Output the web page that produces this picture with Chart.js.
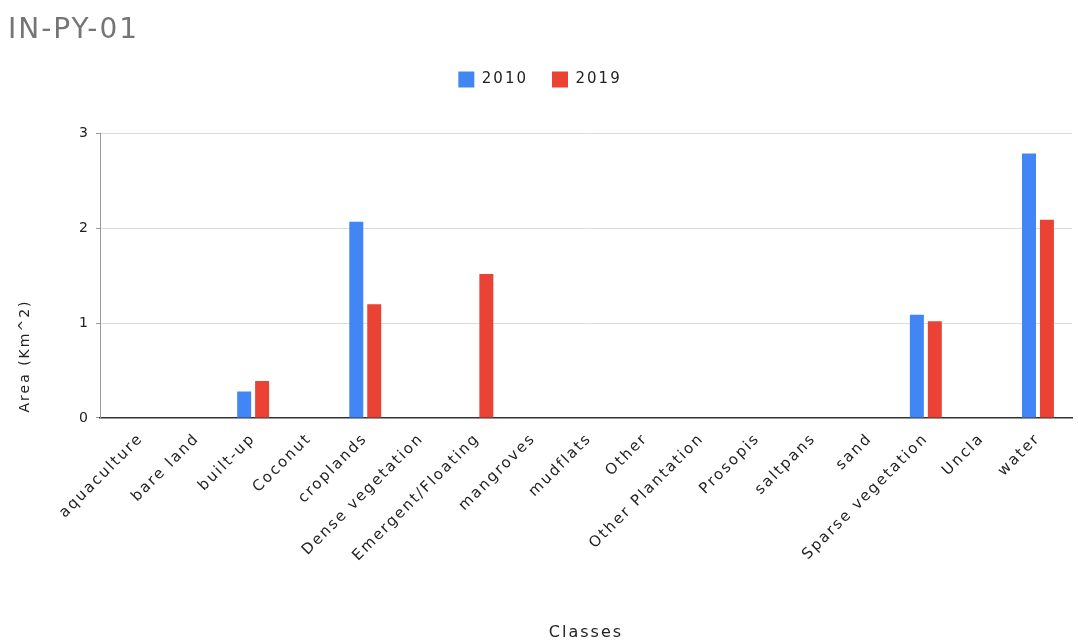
<!DOCTYPE html>
<html>
<head>
<meta charset="utf-8">
<script src="https://cdn.jsdelivr.net/npm/chart.js@4.4.1/dist/chart.umd.min.js"></script>
<style>
  html, body { margin: 0; padding: 0; background: #fff; }
  #wrap { width: 1078px; height: 642px; position: relative; }
</style>
</head>
<body>
<div id="wrap"><canvas id="myChart"></canvas></div>
<script>
// classes along the x axis
var classes = ["aquaculture", "bare land", "built-up", "Coconut", "croplands", "Dense vegetation",
	"Emergent/Floating", "mangroves", "mudflats", "Other", "Other Plantation", "Prosopis",
	"saltpans", "sand", "Sparse vegetation", "Uncla", "water"];

// area per class, Km^2
var area2010 = [0, 0, 0.28, 0, 2.07, 0, 0, 0, 0, 0, 0, 0, 0, 0, 1.09, 0, 2.79];
var area2019 = [0, 0, 0.39, 0, 1.20, 0, 1.52, 0, 0, 0, 0, 0, 0, 0, 1.02, 0, 2.09];

var yTicks = [0, 1, 2, 3];
var yTitle = "Area (Km^2)";

Chart.defaults.font.family = "'DejaVu Sans', Verdana, sans-serif";
Chart.defaults.color = "#333";

var layoutTweaks = {
	id: "layoutTweaks",
	// extra space under the legend
	beforeInit: function (chart) {
		var legend = chart.legend;
		var fit = legend.fit;
		legend.fit = function () {
			fit.call(legend);
			legend.height += 36;
		};
	},
	beforeUpdate: function (chart) { chart.ctx.letterSpacing = "2px"; },
	beforeDraw: function (chart) { chart.ctx.letterSpacing = "2px"; },
	// leave some room between the axis lines and the first / last bar group
	afterLayout: function (chart) {
		var x = chart.scales.x;
		x._startPixel = x.left + 13;
		x._endPixel = x.right - 6;
		x._length = x._endPixel - x._startPixel;
	},
	// y axis title, sitting low next to the axis
	afterDraw: function (chart) {
		var c = chart.ctx;
		c.save();
		c.letterSpacing = "2px";
		c.font = "14px 'DejaVu Sans', Verdana, sans-serif";
		c.fillStyle = "#222";
		c.textAlign = "center";
		c.textBaseline = "middle";
		c.translate(25, chart.chartArea.bottom - 62);
		c.rotate(-Math.PI / 2);
		c.fillText(yTitle, 0, 0);
		c.restore();
	}
};

var ctx = document.getElementById("myChart");

var myChart = new Chart(ctx, {
	type: "bar",
	plugins: [layoutTweaks],
	data: {
		labels: classes,
		datasets: [
			{
				label: "2010",
				data: area2010,
				backgroundColor: "#4285F4",
				categoryPercentage: 0.64,
				barPercentage: 0.78
			},
			{
				label: "2019",
				data: area2019,
				backgroundColor: "#EA4335",
				categoryPercentage: 0.64,
				barPercentage: 0.78
			}
		]
	},
	options: {
		responsive: true,
		maintainAspectRatio: false,
		animation: false,
		layout: { padding: { left: 8, right: 6, top: 0, bottom: 0 } },
		plugins: {
			title: {
				display: true,
				text: "IN-PY-01",
				align: "start",
				color: "#757575",
				font: { size: 28, weight: "normal" },
				padding: { top: 14, bottom: 0 }
			},
			legend: {
				position: "top",
				labels: {
					boxWidth: 16,
					boxHeight: 16,
					padding: 24,
					color: "#222",
					font: { size: 15 }
				}
			},
			tooltip: { enabled: false }
		},
		scales: {
			x: {
				grid: { display: false },
				border: { color: "#333", width: 1.5 },
				ticks: {
					minRotation: 45,
					maxRotation: 45,
					autoSkip: false,
					padding: 4,
					color: "#222",
					font: { size: 15 }
				},
				title: {
					display: true,
					text: "Classes",
					color: "#222",
					font: { size: 16 },
					padding: { top: 54, bottom: 0 }
				}
			},
			y: {
				min: 0,
				max: 3,
				afterBuildTicks: function (axis) {
					axis.ticks = yTicks.map(function (v) { return { value: v }; });
				},
				// wide enough for the title drawn beside it
				afterFit: function (axis) { axis.width = 92; },
				grid: { color: "#dcdcdc", tickLength: 4, tickColor: "#999" },
				border: { display: true, color: "#999" },
				ticks: { padding: 6, color: "#222", font: { size: 14 } }
			}
		}
	}
});
</script>
</body>
</html>
